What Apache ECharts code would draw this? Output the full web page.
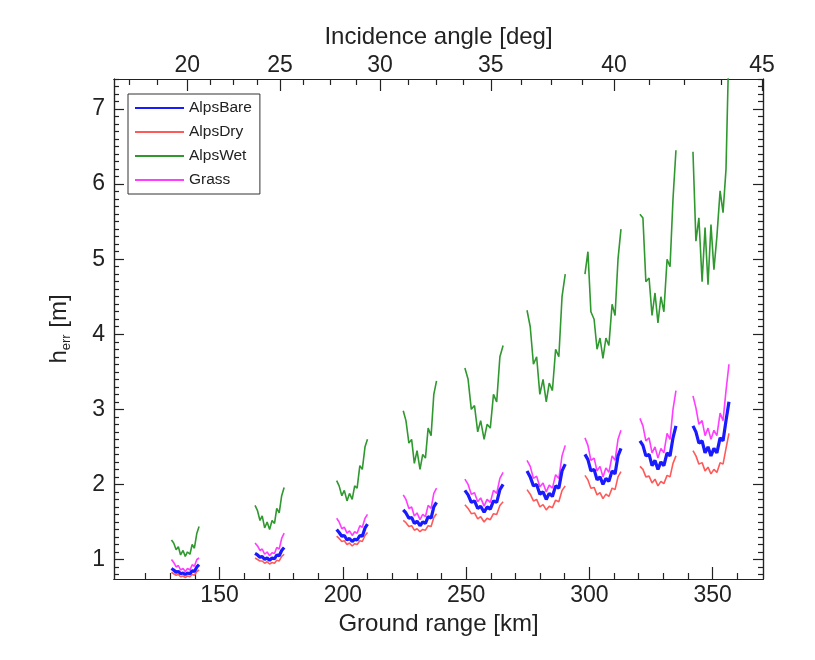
<!DOCTYPE html>
<html><head><meta charset="utf-8">
<script src="https://cdn.jsdelivr.net/npm/echarts@6/dist/echarts.min.js"></script>
<style>html,body{margin:0;padding:0;background:#fff}#c{width:815px;height:660px}</style>
</head><body><div id="c"></div>
<script>
// ---- axis ticks / labels ----
const groundMajor = [150, 200, 250, 300, 350];
const groundMinor = [120, 130, 140, 160, 170, 180, 190, 210, 220, 230, 240, 260, 270, 280, 290, 310, 320, 330, 340, 360];
const angleLabels = [20, 25, 30, 35, 40, 45];
const angleMajorKm = [136.9, 174.5, 215.1, 260.0, 310.0, 370.0];
const angleMinorKm = [113.4, 124.8, 146.1, 155.5, 165.1, 184.0, 194.8, 205.3, 226.5, 237.8, 248.8, 272.5, 284.5, 297.2, 324.3, 338.6, 353.6];
const yMajor = [1, 2, 3, 4, 5, 6, 7];

// ---- data: ground range (km) per swath, and h_err per series ----
const clusterKm = [
  [130.5,131.4,132.4,133.3,134.2,135.2,136.1,137.0,138.0,138.9,139.8,140.8,141.7],
  [164.4,165.4,166.4,167.3,168.3,169.3,170.3,171.3,172.3,173.2,174.2,175.2,176.2],
  [197.5,198.5,199.6,200.6,201.7,202.7,203.8,204.8,205.8,206.9,207.9,209.0,210.0],
  [224.5,225.6,226.8,227.9,229.0,230.1,231.3,232.4,233.5,234.6,235.8,236.9,238.0],
  [249.5,250.8,252.1,253.4,254.7,255.9,257.3,258.5,259.8,261.1,262.4,263.7,265.0],
  [274.7,276.0,277.3,278.6,279.9,281.2,282.5,283.7,285.0,286.3,287.6,288.9,290.2],
  [298.2,299.4,300.6,301.9,303.1,304.3,305.5,306.7,307.9,309.2,310.4,311.6,312.8],
  [320.5,321.7,322.9,324.2,325.4,326.6,327.8,329.0,330.2,331.5,332.7,333.9,335.1],
  [342.0,343.2,344.4,345.7,346.9,348.1,349.3,350.5,351.7,353.0,354.2,355.4,356.6]
];
const alpsBare = [
  [0.88,0.86,0.83,0.84,0.81,0.82,0.80,0.82,0.81,0.85,0.84,0.90,0.93],
  [1.08,1.06,1.03,1.04,1.00,1.02,0.99,1.02,1.01,1.06,1.05,1.12,1.16],
  [1.40,1.36,1.31,1.32,1.26,1.28,1.24,1.27,1.26,1.32,1.31,1.42,1.47],
  [1.66,1.62,1.55,1.56,1.48,1.51,1.45,1.50,1.48,1.57,1.55,1.70,1.76],
  [1.92,1.86,1.76,1.78,1.68,1.71,1.63,1.70,1.67,1.78,1.76,1.93,2.00],
  [2.18,2.10,1.98,2.00,1.87,1.90,1.80,1.88,1.84,1.98,1.95,2.18,2.27],
  [2.40,2.33,2.18,2.20,2.06,2.10,2.00,2.08,2.04,2.18,2.14,2.38,2.48],
  [2.58,2.52,2.38,2.40,2.25,2.32,2.20,2.30,2.25,2.42,2.38,2.62,2.78],
  [2.78,2.70,2.55,2.58,2.42,2.50,2.38,2.48,2.42,2.62,2.58,2.85,3.10]
];
const alpsDry = [
  [0.83,0.81,0.79,0.80,0.77,0.78,0.76,0.78,0.77,0.80,0.79,0.84,0.86],
  [1.02,1.00,0.98,0.98,0.95,0.97,0.94,0.96,0.95,0.99,0.98,1.04,1.07],
  [1.31,1.28,1.24,1.25,1.20,1.22,1.18,1.21,1.20,1.25,1.24,1.32,1.36],
  [1.52,1.49,1.44,1.45,1.39,1.41,1.37,1.40,1.39,1.45,1.44,1.56,1.61],
  [1.73,1.68,1.61,1.62,1.54,1.57,1.50,1.55,1.53,1.61,1.60,1.72,1.77],
  [1.93,1.87,1.78,1.80,1.70,1.73,1.66,1.71,1.69,1.79,1.77,1.92,1.98],
  [2.12,2.06,1.95,1.96,1.86,1.89,1.81,1.87,1.84,1.95,1.93,2.10,2.17],
  [2.24,2.20,2.10,2.11,2.02,2.07,1.98,2.04,2.01,2.12,2.10,2.28,2.38],
  [2.45,2.38,2.27,2.29,2.18,2.23,2.14,2.20,2.16,2.29,2.27,2.48,2.68]
];
const alpsWet = [
  [1.26,1.22,1.13,1.17,1.06,1.12,1.04,1.10,1.07,1.20,1.15,1.35,1.44],
  [1.72,1.65,1.52,1.58,1.42,1.50,1.40,1.52,1.48,1.68,1.62,1.85,1.96],
  [2.05,1.98,1.85,1.92,1.78,1.88,1.80,1.98,1.95,2.25,2.20,2.50,2.60],
  [2.98,2.85,2.55,2.60,2.28,2.45,2.20,2.40,2.35,2.75,2.65,3.20,3.38],
  [3.55,3.40,3.00,3.05,2.70,2.85,2.60,2.80,2.75,3.20,3.10,3.70,3.85],
  [4.32,4.10,3.60,3.70,3.20,3.40,3.10,3.35,3.25,3.80,3.70,4.50,4.80],
  [4.80,5.10,4.30,4.20,3.80,3.95,3.68,3.95,3.85,4.40,4.25,5.00,5.40],
  [5.60,5.55,4.70,4.75,4.25,4.55,4.15,4.50,4.30,5.00,4.90,5.80,6.45],
  [6.43,5.24,5.55,4.70,5.42,4.66,5.46,4.86,5.30,5.91,5.62,6.20,7.90]
];
const grass = [
  [1.00,0.96,0.90,0.92,0.86,0.88,0.84,0.88,0.86,0.93,0.91,1.00,1.02],
  [1.22,1.18,1.12,1.14,1.07,1.10,1.05,1.09,1.08,1.16,1.14,1.28,1.35],
  [1.55,1.50,1.41,1.43,1.35,1.38,1.32,1.37,1.35,1.45,1.43,1.55,1.60],
  [1.86,1.80,1.68,1.70,1.58,1.62,1.53,1.60,1.57,1.72,1.68,1.88,1.95],
  [2.07,2.00,1.87,1.89,1.77,1.82,1.71,1.80,1.76,1.92,1.88,2.08,2.16],
  [2.32,2.24,2.08,2.11,1.97,2.02,1.90,1.99,1.95,2.13,2.08,2.38,2.52],
  [2.62,2.52,2.32,2.35,2.18,2.24,2.10,2.22,2.16,2.38,2.32,2.60,2.72],
  [2.88,2.78,2.58,2.62,2.42,2.50,2.35,2.48,2.42,2.68,2.60,3.00,3.25],
  [3.18,3.02,2.80,2.85,2.65,2.75,2.60,2.72,2.65,2.95,2.85,3.25,3.60]
];

function build(vals) {
  const out = [];
  clusterKm.forEach((xs, i) => {
    if (i > 0) out.push([(clusterKm[i - 1][xs.length - 1] + xs[0]) / 2, '-']);
    xs.forEach((x, j) => out.push([x, vals[i][j]]));
  });
  return out;
}
const yMinor = [];
for (let k = 8; k <= 74; k++) { if (k % 10 !== 0) yMinor.push(k / 10); }

const FONT = 'Liberation Sans, Arial, Helvetica, sans-serif';
const XMIN = 107.2, XMAX = 370.4, YMIN = 0.74, YMAX = 7.40;
const axisCol = '#222';

function xAx(pos, ticks, len, labels, extra) {
  return Object.assign({
    type: 'value', position: pos, min: XMIN, max: XMAX,
    axisLine: { show: true, lineStyle: { color: axisCol, width: 1.2 } },
    axisTick: { show: true, inside: true, length: len, customValues: ticks, lineStyle: { color: axisCol, width: 1.2 } },
    axisLabel: labels ? Object.assign({ show: true, customValues: ticks, fontSize: 23, fontFamily: FONT, color: '#222', margin: 5 }, labels) : { show: false },
    splitLine: { show: false }
  }, extra || {});
}
function yAx(pos, ticks, len, labels, extra) {
  return Object.assign({
    type: 'value', position: pos, min: YMIN, max: YMAX,
    axisLine: { show: true, lineStyle: { color: axisCol, width: 1.2 } },
    axisTick: { show: true, inside: true, length: len, customValues: ticks, lineStyle: { color: axisCol, width: 1.2 } },
    axisLabel: labels ? Object.assign({ show: true, customValues: ticks, fontSize: 23, fontFamily: FONT, color: '#222', margin: 9 }, labels) : { show: false },
    splitLine: { show: false }
  }, extra || {});
}

const option = {
  animation: false,
  backgroundColor: '#fff',
  grid: { left: 114, right: 52, top: 79, bottom: 81, containLabel: false },
  xAxis: [
    xAx('bottom', groundMajor, 12, {}, { name: 'Ground range [km]', nameLocation: 'middle', nameGap: 33, nameTextStyle: { fontSize: 24, fontFamily: FONT, color: '#222' } }),
    xAx('bottom', groundMinor, 6, null),
    xAx('top', angleMajorKm, 12, { margin: 2, formatter: function (v) { for (let i = 0; i < angleMajorKm.length; i++) { if (Math.abs(angleMajorKm[i] - v) < 0.01) return String(angleLabels[i]); } return ''; } },
      { name: 'Incidence angle [deg]', nameLocation: 'middle', nameGap: 30, nameTextStyle: { fontSize: 24, fontFamily: FONT, color: '#222' } }),
    xAx('top', angleMinorKm, 6, null)
  ],
  yAxis: [
    yAx('left', yMajor, 10, {}, {
      name: '{a|h}{b|err}{a| [m]}', nameLocation: 'middle', nameGap: 41, nameRotate: 90,
      nameTextStyle: { fontFamily: FONT, color: '#222', rich: {
        a: { fontSize: 24, fontFamily: FONT, color: '#222', lineHeight: 28 },
        b: { fontSize: 13, fontFamily: FONT, color: '#222', verticalAlign: 'bottom', lineHeight: 14 } } }
    }),
    yAx('left', yMinor, 5, null),
    yAx('right', yMajor, 10, null),
    yAx('right', yMinor, 5, null)
  ],
  legend: {
    left: 128, top: 94, orient: 'vertical', itemWidth: 49, itemHeight: 14, itemGap: 8,
    padding: [6, 8, 6, 6], borderColor: '#333', borderWidth: 1, backgroundColor: '#fff',
    itemStyle: { opacity: 0 },
    textStyle: { fontSize: 15.5, fontFamily: FONT, color: '#222' },
    data: ['AlpsBare', 'AlpsDry', 'AlpsWet', 'Grass']
  },
  series: [
    { name: 'AlpsBare', data: build(alpsBare), color: '#1a1aff', lineStyle: { width: 3.2 } },
    { name: 'AlpsDry', data: build(alpsDry), color: '#ff5a5a', lineStyle: { width: 1.6 } },
    { name: 'AlpsWet', data: build(alpsWet), color: '#2f982f', lineStyle: { width: 1.6 } },
    { name: 'Grass', data: build(grass), color: '#ff3cff', lineStyle: { width: 1.6 } }
  ].map(s => Object.assign({ type: 'line', xAxisIndex: 0, yAxisIndex: 0, symbol: 'none', showSymbol: false, connectNulls: false, clip: true }, s))
};
option.series[2].z = 2; option.series[1].z = 3; option.series[0].z = 4; option.series[3].z = 3;
const chart = echarts.init(document.getElementById('c'), null, { renderer: 'canvas' });
chart.setOption(option);
</script></body></html>
